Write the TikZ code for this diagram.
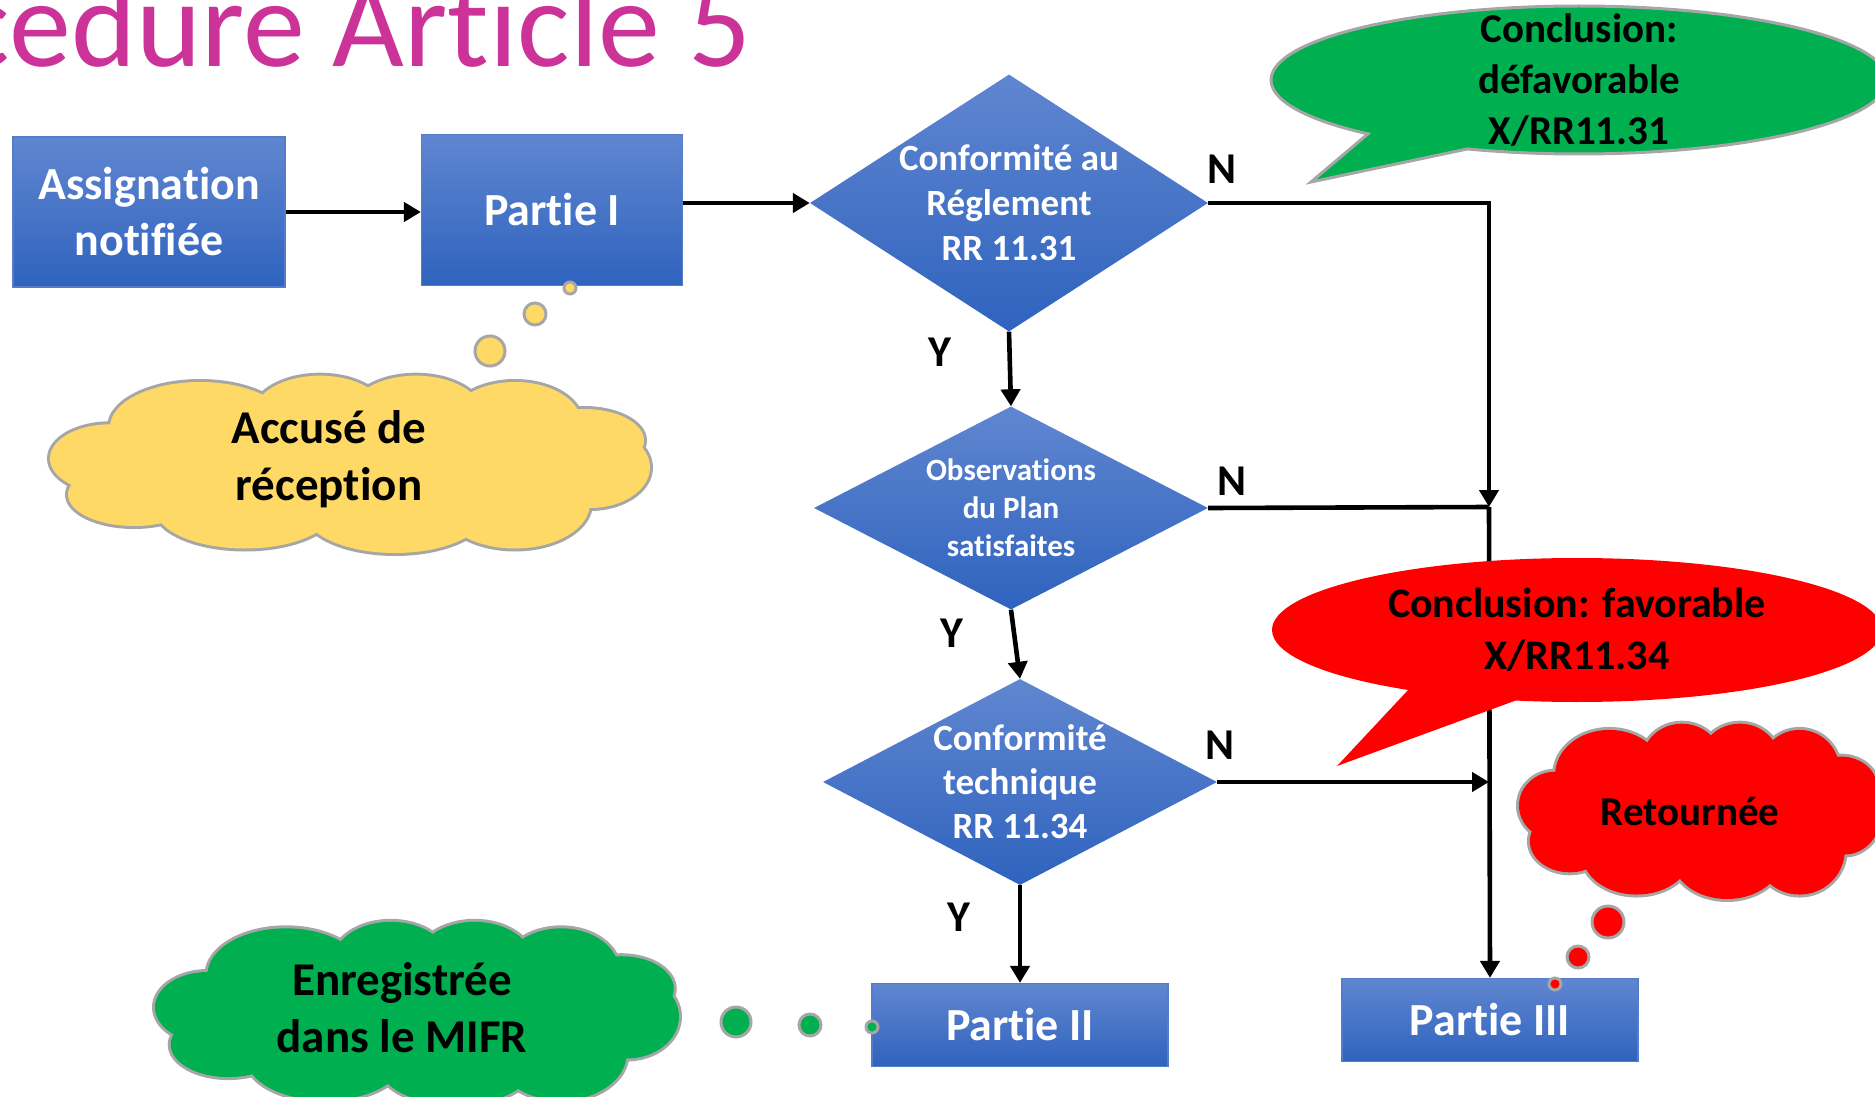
\documentclass[tikz,border=0pt]{standalone}
\usepackage{fontspec}
\setmainfont{Carlito}[Ligatures=NoCommon]
\usetikzlibrary{shapes.geometric,shapes.callouts,arrows.meta}

\definecolor{titlemag}{RGB}{204,51,153}
\definecolor{boxtop}{RGB}{96,134,208}
\definecolor{boxbot}{RGB}{47,99,190}
\definecolor{boxedge}{RGB}{84,124,202}
\definecolor{okgreen}{RGB}{0,176,80}
\definecolor{puffgray}{RGB}{166,166,166}
\definecolor{ackyellow}{RGB}{255,217,102}

% puffs of a cloud, in units of its half width and half height
\newcommand\cloudpuffs{0.80/0.05/0.20/0.45, 0.55/0.45/0.25/0.50, 0.15/0.55/0.30/0.45,
  -0.35/0.50/0.30/0.45, -0.72/0.35/0.22/0.35, -0.80/-0.05/0.20/0.38,
  -0.50/-0.40/0.30/0.50, -0.10/-0.55/0.22/0.42, 0.22/-0.55/0.22/0.42,
  0.55/-0.45/0.22/0.45, 0.78/-0.25/0.20/0.35}
\newcommand\puffcloud[3]{%
  \begin{scope}[shift={#2},#3]
    \foreach \px/\py/\rx/\ry in \cloudpuffs
      \draw[puffgray,line width=6pt] (\px,\py) ellipse [x radius=\rx,y radius=\ry];
    \foreach \px/\py/\rx/\ry in \cloudpuffs
      \fill[#1] (\px,\py) ellipse [x radius=\rx,y radius=\ry];
    \fill[#1] (0,0) ellipse [x radius=0.75,y radius=0.6];
  \end{scope}}

\tikzset{
  stepbox/.style={rectangle,draw=boxedge,line width=1.2pt,top color=boxtop,bottom color=boxbot,
    text=white,align=center,inner sep=0pt,font=\bfseries\fontsize{46}{56}\selectfont},
  test/.style={diamond,top color=boxtop,bottom color=boxbot,text=white,align=center,
    inner xsep=-30pt,inner ysep=-20pt},
  yn/.style={inner sep=0pt,font=\bfseries\fontsize{44}{50}\selectfont},
  arr/.style={line width=4.6pt,-{Triangle[length=17pt,width=19pt]}},
  wire/.style={line width=4.6pt},
  cloudtext/.style={align=center,inner sep=0pt,font=\bfseries\fontsize{47}{57}\selectfont},
  dot/.style={circle,draw=puffgray,line width=3pt,inner sep=0pt},
  bubble/.style={ellipse callout,align=center,inner sep=0pt,callout pointer arc=22,
    font=\bfseries\fontsize{42}{52}\selectfont}
}

\begin{document}
\begin{tikzpicture}[x=1pt,y=-1pt]
\useasboundingbox (0,0) rectangle (1875,1097);

\node[anchor=base west,inner sep=0pt,text=titlemag,font=\fontsize{124}{130}\selectfont] (title) at (-43,67) {cedure Article 5};

% boxes and tests
\node[stepbox,minimum width=272pt,minimum height=150pt] (assig) at (149,212) {Assignation\\notifiée};
\node[stepbox,minimum width=261pt,minimum height=151pt] (p1) at (552,210) {Partie I};
\node[test,minimum width=398pt,minimum height=257pt,font=\bfseries\fontsize{37}{45}\selectfont] (d1) at (1009,203) {Conformité au\\Réglement\\RR 11.31};
\node[test,minimum width=394pt,minimum height=203pt,font=\bfseries\fontsize{31}{38}\selectfont] (d2) at (1011,508) {Observations\\du Plan\\satisfaites};
\node[test,minimum width=394pt,minimum height=206pt,font=\bfseries\fontsize{37}{44}\selectfont] (d3) at (1020,782) {Conformité\\technique\\RR 11.34};
\node[stepbox,minimum width=296pt,minimum height=83pt] (p2) at (1020,1025) {Partie II};
\node[stepbox,minimum width=296pt,minimum height=83pt] (p3) at (1490,1020) {Partie III};

% connectors
\coordinate (join) at (1489,507);
\draw[arr] (assig.east) -- (assig.east -| p1.west);
\draw[arr] (p1.east |- d1.west) -- (d1.west);
\draw[arr] (d1.south) -- (d2.north);
\draw[arr] (d2.south) -- (d3.north);
\draw[arr] (d3.south) -- (p2.north);
\draw[arr] (d1.east) -| (join);
\draw[wire] (d2.east) -- (join);
\draw[arr] (join) -- (p3.north);
\draw[arr] (d3.east) -- (d3.east -| join);

\node[yn] (n1) at (1222,169) {N};
\node[yn] (n2) at (1232,481) {N};
\node[yn] (n3) at (1220,745) {N};
\node[yn] (y1) at (940,352) {Y};
\node[yn] (y2) at (952,633) {Y};
\node[yn] (y3) at (959,917) {Y};

% callouts
\node[bubble,fill=okgreen,draw=puffgray,line width=3pt,inner ysep=-20pt,
  font=\bfseries\fontsize{41}{51}\selectfont,
  minimum width=616pt,minimum height=148pt,callout absolute pointer={(1311,182)}] (defav) at (1579,80) {Conclusion:\\défavorable\\X/RR11.31};
\node[bubble,fill=red,minimum width=610pt,minimum height=144pt,
  callout absolute pointer={(1337,766)}] (fav) at (1577,630) {Conclusion: favorable\\X/RR11.34};

% clouds
\puffcloud{ackyellow}{(350,463)}{xscale=300,yscale=90}
\node[cloudtext] (accuse) at (329,459) {Accusé de\\réception};
\node[dot,fill=ackyellow,minimum size=30pt] (a1) at (490,351) {};
\node[dot,fill=ackyellow,minimum size=22pt] (a2) at (535,314) {};
\node[dot,fill=ackyellow,minimum size=12pt] (a3) at (570,288) {};

\puffcloud{red}{(1700,810)}{xscale=181,yscale=89}
\node[cloudtext,font=\bfseries\fontsize{41}{50}\selectfont] (retour) at (1690,811) {Retournée};
\node[dot,fill=red,minimum size=32pt] (r1) at (1608,922) {};
\node[dot,fill=red,minimum size=22pt] (r2) at (1578,957) {};
\node[dot,fill=red,minimum size=12pt] (r3) at (1555,984) {};

\puffcloud{okgreen}{(417,1012)}{xscale=262,yscale=93}
\node[cloudtext] (mifr) at (402,1008) {Enregistrée\\dans le MIFR};
\node[dot,fill=okgreen,minimum size=30pt] (m1) at (736,1022) {};
\node[dot,fill=okgreen,minimum size=22pt] (m2) at (810,1025) {};
\node[dot,fill=okgreen,minimum size=12pt] (m3) at (872,1027) {};
\end{tikzpicture}
\end{document}
